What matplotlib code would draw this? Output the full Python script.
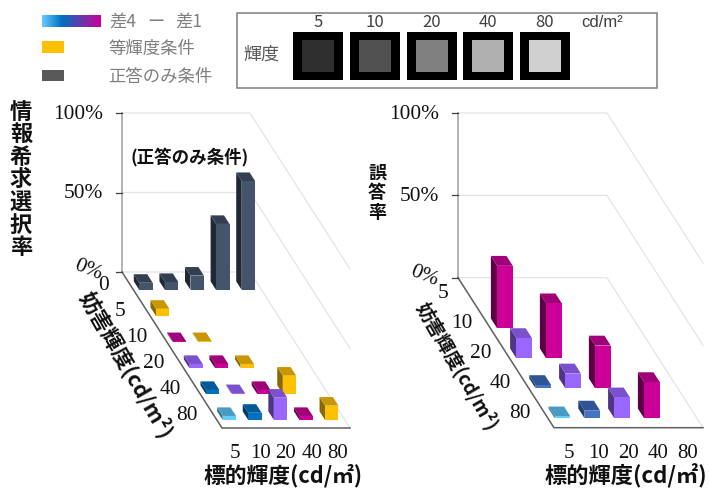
import numpy as np
import matplotlib
matplotlib.use('Agg')
import matplotlib.pyplot as plt
from matplotlib.patches import Rectangle

CJK = ['Noto Sans CJK JP', 'DejaVu Sans']
SERIF = ['Liberation Serif', 'Noto Sans CJK JP']
SANS = ['Liberation Sans', 'DejaVu Sans']

# luminance labels (cd/m2)
target_labels = ['5', '10', '20', '40', '80']
left_rows = ['0', '5', '10', '20', '40', '80']
right_rows = ['5', '10', '20', '40', '80']
percent_labels = ['100%', '50%', '0%']
percent_values = [100, 50, 0]

# info-seeking rate, rows = distractor, columns = target
seek_rate = [
    [4.5, 5, 9, 41.5, 68.5],
    [4.5, None, None, None, None],
    [0.5, 0.5, None, None, None],
    [2.5, 2.5, 2.5, None, None],
    [2.5, 0.5, 2.5, 11.5, None],
    [2.5, 4.5, 14, 2.5, 9],
]
# error rate
error_rate = [
    [None, None, None, None, None],
    [38, None, None, None, None],
    [12.3, 33.4, None, None, None],
    [2, 9, 26, None, None],
    [1.2, 4.7, 12.7, 22, None],
]

NAVY = ('#44546A', '#333F50', '#1F2833')
YELLOW = ('#FFC000', '#C89600', '#8A6800')
MAGENTA = ('#CC0099', '#A00078', '#5E0046')
PURPLE = ('#9966FF', '#7A50CC', '#4F3585')
BLUE_L = ('#0070C0', '#005A9A', '#003A64')
BLUE_R = ('#4472C4', '#2F5597', '#223F70')
LIGHT = ('#66CCFF', '#4A9BC4', '#336F8C')

left_diff = {0: YELLOW, 1: MAGENTA, 2: PURPLE, 3: BLUE_L, 4: LIGHT}
right_diff = {1: MAGENTA, 2: PURPLE, 3: BLUE_R, 4: LIGHT}

fig = plt.figure(figsize=(7.09, 4.91), dpi=100)
ax = fig.add_axes([0, 0, 1, 1])
ax.set_xlim(0, 709)
ax.set_ylim(491, 0)
ax.axis('off')


class Panel:
    def __init__(self, x0, y0, width, dx, dy, height, nrows):
        self.x0, self.y0 = x0, y0
        self.cw = width / 5
        self.rx = dx / nrows
        self.ry = dy / nrows
        self.hs = height / 100
        self.nrows = nrows

    def pt(self, col, row, val=0):
        return (self.x0 + self.cw * col + self.rx * row,
                self.y0 + self.ry * row - self.hs * val)

    def walls(self):
        for v in percent_values:
            xs, ys = zip(self.pt(0, 0, v), self.pt(5, 0, v), self.pt(5, self.nrows, v))
            ax.plot(xs, ys, color='#E4E4E4', lw=0.9, zorder=1)
        xs, ys = zip(self.pt(0, 0), self.pt(0, 0, 100))
        ax.plot(xs, ys, color='#A6A6A6', lw=1.2, zorder=2)
        xs, ys = zip(self.pt(0, 0), self.pt(0, self.nrows), self.pt(5, self.nrows))
        ax.plot(xs, ys, color='#5F5F5F', lw=1.1, zorder=2)
        for v, lab in zip(percent_values, percent_labels):
            x, y = self.pt(0, 0, v)
            ax.plot([x - 6, x], [y, y], color='#404040', lw=0.9, zorder=2)
            if v == 0:
                ax.text(x - 21, y + 4, lab, ha='right', va='center', family=SERIF,
                        fontsize=15.4, rotation=-22, rotation_mode='anchor', color='#111111')
            else:
                ax.text(x - 19, y + 1.5, lab, ha='right', va='center', family=SERIF,
                        fontsize=15.4, color='#111111')

    def bar(self, col, row, val, colors):
        front, top, side = colors
        c0, c1 = col + 0.227, col + 0.75
        r0, r1 = row + 0.36, row + 0.69
        zo = 3 + row * 10 + col
        a = self.pt(c0, r1); b = self.pt(c1, r1)
        at = self.pt(c0, r1, val); bt = self.pt(c1, r1, val)
        ct = self.pt(c1, r0, val); dt = self.pt(c0, r0, val)
        d = self.pt(c0, r0)
        ax.fill(*zip(d, a, at, dt), color=side, lw=0, zorder=zo)
        ax.fill(*zip(at, bt, ct, dt), color=top, lw=0, zorder=zo)
        ax.fill(*zip(a, b, bt, at), color=front, lw=0, zorder=zo)

    def bars(self, table, color_for):
        for r, row in enumerate(table):
            for c, v in enumerate(row):
                if v is not None:
                    self.bar(c, r, v, color_for(r, c))

    def tick_labels(self, rows, off):
        for r, lab in enumerate(rows):
            x, y = self.pt(0, r + 0.5)
            ax.text(x + off, y + 1, lab, ha='center', va='center', family=SERIF,
                    fontsize=15.4, color='#111111')
        for c, lab in enumerate(target_labels):
            x, y = self.pt(c + 0.5, self.nrows)
            ax.text(x, 453, lab, ha='center', va='center', family=SERIF,
                    fontsize=15, color='#111111')


left = Panel(122, 272, 128, 100, 156, 159, 6)
right = Panel(458, 277.7, 149, 96, 150, 164.7, 5)

left.walls()
right.walls()
left.bars(seek_rate, lambda r, c: NAVY if r == 0 else left_diff[r - 1 - c])
right.bars(error_rate, lambda r, c: right_diff[r - c])
left.tick_labels(left_rows, -27)
right.tick_labels(right_rows, -25)

# axis titles
for i, ch in enumerate('情報希求選択率'):
    ax.text(21, 112 + i * 22.6, ch, ha='center', va='center', family=CJK,
            fontsize=16, fontweight='bold', color='#111111')
for i, ch in enumerate('誤答率'):
    ax.text(377, 173 + i * 19.5, ch, ha='center', va='center', family=CJK,
            fontsize=13, fontweight='bold', color='#111111')
ax.text(126, 365, '妨害輝度(cd/m²)', ha='center', va='center', rotation=-60,
        rotation_mode='anchor', family=CJK, fontsize=15.5, fontweight='bold', color='#111111')
ax.text(457, 366, '妨害輝度(cd/m²)', ha='center', va='center', rotation=-60,
        rotation_mode='anchor', family=CJK, fontsize=13.5, fontweight='bold', color='#111111')
ax.text(283, 476, '標的輝度(cd/㎡)', ha='center', va='center', family=CJK,
        fontsize=15.7, fontweight='bold', color='#111111')
ax.text(626, 476, '標的輝度(cd/㎡)', ha='center', va='center', family=CJK,
        fontsize=16, fontweight='bold', color='#111111')
ax.text(190, 157, '(正答のみ条件)', ha='center', va='center', family=CJK,
        fontsize=12.6, fontweight='bold', color='#111111')

# legend
grad = np.linspace(0, 1, 120)
stops = np.array([[0x66, 0xCC, 0xFF], [0x00, 0x70, 0xC0], [0xCC, 0x00, 0x99]]) / 255
grad_rgb = np.stack([np.interp(grad, [0, 0.33, 1], stops[:, i]) for i in range(3)], axis=-1)
ax.imshow(grad_rgb[np.newaxis], extent=(42, 101, 26.5, 15), aspect='auto', zorder=5)
ax.add_patch(Rectangle((42, 41), 22, 11.5, color='#FFC000', lw=0))
ax.add_patch(Rectangle((42, 70), 22, 11, color='#595959', lw=0))
ax.set_xlim(0, 709)
ax.set_ylim(491, 0)
GREY = '#7F7F7F'
ax.text(109, 22, '差4', va='center', family=CJK, fontsize=12.5, color=GREY)
ax.text(147, 22, 'ー', va='center', family=CJK, fontsize=12.5, color=GREY)
ax.text(175, 22, '差1', va='center', family=CJK, fontsize=12.5, color=GREY)
ax.text(108, 48.5, '等輝度条件', va='center', family=CJK, fontsize=12.5, color=GREY)
ax.text(108, 76.5, '正答のみ条件', va='center', family=CJK, fontsize=12.5, color=GREY)

# luminance key
swatch_labels = ['5', '10', '20', '40', '80']
swatch_grey = ['#2F2F2F', '#505050', '#808080', '#B0B0B0', '#D0D0D0']
swatch_x = [293, 350, 407, 463, 520]
ax.add_patch(Rectangle((236.5, 13), 420, 75, fc='white', ec='#7F7F7F', lw=1.1))
ax.text(261, 55, '輝度', ha='center', va='center', family=CJK, fontsize=13, color='#595959')
for x, g, lab in zip(swatch_x, swatch_grey, swatch_labels):
    ax.add_patch(Rectangle((x, 32), 49.5, 48, color='black', lw=0, zorder=3))
    ax.add_patch(Rectangle((x + 8.5, 40), 32, 31.5, color=g, lw=0, zorder=4))
    ax.text(x + 25, 22, lab, ha='center', va='center', family=CJK, fontsize=12, color='#404040')
ax.text(581, 22, 'cd/m²', va='center', family=SANS, fontsize=12, color='#404040')

fig.savefig('out.png', dpi=100)
